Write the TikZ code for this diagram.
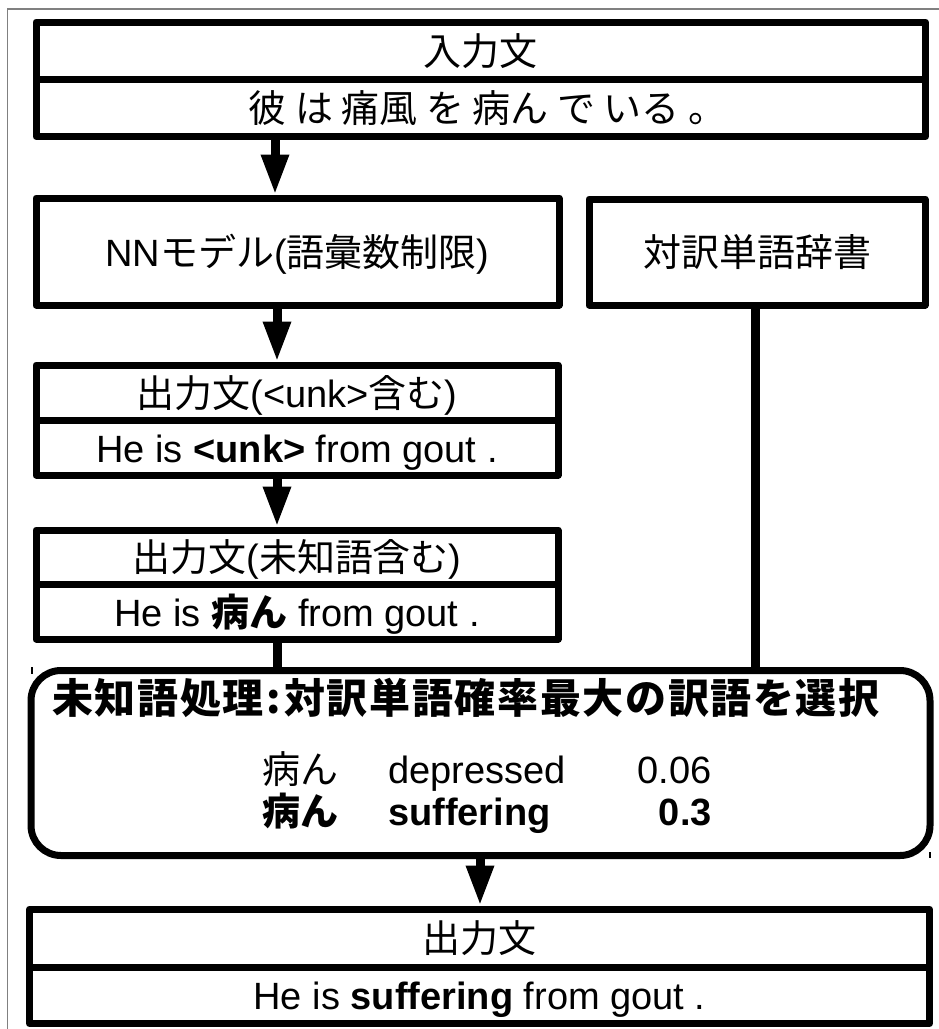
\documentclass[tikz,border=0pt]{standalone}
\usepackage{fontspec}
\setmainfont{Liberation Sans}
\newfontfamily\jp{Noto Sans CJK JP}
\newfontfamily\jptitle[LetterSpace=4]{Noto Sans CJK JP}
\usetikzlibrary{arrows.meta}
\begin{document}
\begin{tikzpicture}[x=1pt,y=-1pt,
  cell/.style={draw, line width=7pt, line join=round, inner sep=0pt,
    text height=31pt, text depth=2pt, font=\fontsize{38}{40}\selectfont},
  procbox/.style={draw, line width=7pt, rounded corners=30pt, inner sep=0pt},
  txt/.style={inner sep=0pt, font=\fontsize{38}{40}\selectfont},
  conn/.style={line width=9pt},
  arr/.style={line width=9pt, -{Triangle[length=40pt,width=26pt]}},
  frame/.style={draw=black!50, line width=1.5pt},
  tick/.style={line width=1.5pt}
]
\useasboundingbox (0,0) rectangle (939,1029);
\draw[frame] (7.5,1029) -- (7.5,9) -- (939,9);

% input
\node[cell, minimum width=889.5pt, minimum height=57.5pt] (in1) at (480.75,50.75) {\jp 入力文};
\node[cell, minimum width=889.5pt, minimum height=57pt] (in2) at (480.75,108) {\hspace*{14pt}\jp 彼 は 痛風 を 病ん で いる 。};

% model and dictionary
\node[cell, minimum width=523pt, minimum height=107pt] (nn) at (297.5,251.5) {NN{\jp モデル}({\jp 語彙数制限})};
\node[cell, minimum width=336pt, minimum height=106pt] (dict) at (757,252) {\jp 対訳単語辞書};

% output with unk
\node[cell, minimum width=522pt, minimum height=55pt] (u1) at (297,392.5) {{\jp 出力文}(<unk>{\jp 含む})};
\node[cell, minimum width=522pt, minimum height=55pt] (u2) at (297,447.5) {He is \textbf{<unk>} from gout .};

% output with unknown word
\node[cell, minimum width=522pt, minimum height=54pt] (k1) at (297,557) {{\jp 出力文}({\jp 未知語含む})};
\node[cell, minimum width=522pt, minimum height=55pt] (k2) at (297,611.5) {He is {\jp\bfseries 病ん} from gout .};

% processing box
\node[procbox, minimum width=899pt, minimum height=185pt] (proc) at (480.5,763) {};
\node[txt, anchor=base, font=\fontsize{41}{43}\selectfont] (title) at (466,713) {\jptitle\bfseries 未知語処理\hspace{3pt}:\hspace{3pt}対訳単語確率最大の訳語を選択};
\node[txt, anchor=base west] (r1a) at (262,783) {\jp 病ん};
\node[txt, anchor=base west] (r1b) at (388,783) {depressed};
\node[txt, anchor=base east] (r1c) at (712,783) {0.06};
\node[txt, anchor=base west] (r2a) at (262,825) {\jp\bfseries 病ん};
\node[txt, anchor=base west] (r2b) at (388,825) {\bfseries suffering};
\node[txt, anchor=base east] (r2c) at (712,825) {\bfseries 0.3};

% final output
\node[cell, minimum width=900pt, minimum height=58pt] (o1) at (479.5,938) {\jp 出力文};
\node[cell, minimum width=900pt, minimum height=56.5pt] (o2) at (479.5,995.25) {He is \textbf{suffering} from gout .};

% connectors
\coordinate (xa) at (275,0);
\coordinate (xb) at (277,0);
\coordinate (xd) at (755.5,0);
\coordinate (xe) at (480,0);
\draw[arr] (in2.south -| xa) -- (nn.north -| xa);
\draw[arr] (nn.south -| xb) -- (u1.north -| xb);
\draw[arr] (u2.south -| xb) -- (k1.north -| xb);
\draw[conn] (k2.south -| xb) -- (proc.north -| xb);
\draw[conn] (dict.south -| xd) -- (proc.north -| xd);
\draw[arr] (proc.south -| xe) -- (o1.north -| xe);

% small marks
\draw[tick] (32,667) -- (32,674);
\draw[tick] (930,852) -- (930,858);
\end{tikzpicture}
\end{document}
